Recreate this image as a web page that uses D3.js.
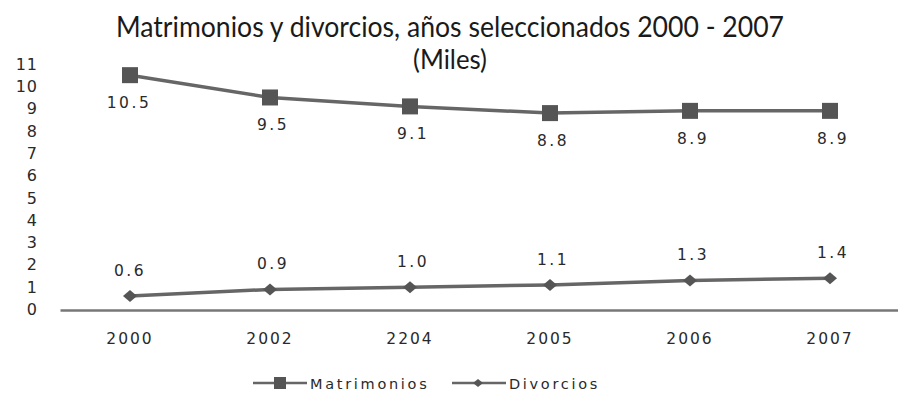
<!DOCTYPE html>
<html><head><meta charset="utf-8">
<script src="https://cdn.jsdelivr.net/npm/d3@7"></script>
<style>body{margin:0;background:#fff}svg{display:block}</style>
</head><body><svg id="c" width="898" height="401"></svg>
<script>
const years = ["2000","2002","2204","2005","2006","2007"];
const matrimonios = [10.5, 9.5, 9.1, 8.8, 8.9, 8.9];
const divorcios = [0.6, 0.9, 1.0, 1.1, 1.3, 1.4];
const yTicks = [0,1,2,3,4,5,6,7,8,9,10,11];
const title1 = "Matrimonios y divorcios, años seleccionados 2000 - 2007";
const title2 = "(Miles)";
const seriesNames = ["Matrimonios","Divorcios"];

const svg = d3.select("#c");
const x = d3.scaleBand().domain(years).range([60, 900]);
const y = d3.scaleLinear().domain([0, 11]).range([309.5, 64]);
const cx = d => x(d) + x.bandwidth()/2;
const col = "#666";
const font = "'DejaVu Sans', Verdana, sans-serif";
const tfont = "Lato, 'Open Sans', sans-serif";

svg.append("text").attr("x", 450).attr("y", 37).attr("text-anchor","middle")
  .attr("font-family",tfont).attr("font-size", 28)
  .attr("textLength", 668).attr("lengthAdjust","spacingAndGlyphs")
  .attr("fill","#1a1a1a").text(title1);
svg.append("text").attr("x", 450).attr("y", 69).attr("text-anchor","middle")
  .attr("font-family",tfont).attr("font-size", 27)
  .attr("textLength", 74).attr("lengthAdjust","spacingAndGlyphs")
  .attr("fill","#1a1a1a").text(title2);

// y axis labels
const yAx = svg.append("g").attr("transform","translate(44,0)")
  .call(d3.axisLeft(y).tickValues(yTicks).tickSize(0).tickPadding(6));
yAx.select(".domain").remove();
yAx.selectAll("text").attr("font-family",font).attr("font-size",16)
  .attr("letter-spacing",1).attr("fill","#2a2a2a");

// x axis
const xAx = svg.append("g").attr("transform","translate(0,310)")
  .call(d3.axisBottom(x).tickSize(0).tickPadding(23));
xAx.select(".domain").attr("stroke","#777").attr("stroke-width",2.5);
xAx.selectAll("text").attr("font-family",font).attr("font-size",15.5)
  .attr("letter-spacing",2).attr("fill","#2a2a2a");

const line = d3.line().x((d,i)=>cx(years[i])).y(d=>y(d));

// Matrimonios
svg.append("path").datum(matrimonios).attr("d", line).attr("fill","none")
  .attr("stroke",col).attr("stroke-width",3.5);
svg.selectAll(".sq").data(matrimonios).enter().append("rect")
  .attr("x",(d,i)=>cx(years[i])-8).attr("y",d=>y(d)-8).attr("width",16).attr("height",16)
  .attr("fill","#555");
svg.selectAll(".ml").data(matrimonios).enter().append("text")
  .attr("x",(d,i)=>cx(years[i])+(i===0?-1:3)).attr("y",d=>y(d)+33).attr("text-anchor","middle")
  .attr("font-family",font).attr("font-size",15.5).attr("letter-spacing",2.5).attr("fill","#2a2a2a")
  .text(d=>d.toFixed(1));

// Divorcios
svg.append("path").datum(divorcios).attr("d", line).attr("fill","none")
  .attr("stroke",col).attr("stroke-width",3.5);
svg.selectAll(".dm").data(divorcios).enter().append("path")
  .attr("d",(d,i)=>{const px=cx(years[i]),py=y(d);return `M${px-7},${py}L${px},${py-6}L${px+7},${py}L${px},${py+6}Z`;})
  .attr("fill","#555");
svg.selectAll(".dl").data(divorcios).enter().append("text")
  .attr("x",(d,i)=>cx(years[i])+(i===0?0:3)).attr("y",d=>y(d)-20).attr("text-anchor","middle")
  .attr("font-family",font).attr("font-size",15.5).attr("letter-spacing",2.5).attr("fill","#2a2a2a")
  .text(d=>d.toFixed(1));

// legend
const lg = svg.append("g");
const lx = [253, 452];
seriesNames.forEach((n,i)=>{
  const g = lg.append("g").attr("transform",`translate(${lx[i]},383)`);
  g.append("line").attr("x1",0).attr("x2",54).attr("y1",0).attr("y2",0).attr("stroke",col).attr("stroke-width",2.5);
  if(i===0) g.append("rect").attr("x",21).attr("y",-6).attr("width",12).attr("height",12).attr("fill","#555");
  else g.append("path").attr("d","M21,0L26,-4L31,0L26,4Z").attr("fill","#555");
  g.append("text").attr("x",57).attr("y",6).attr("font-family",font).attr("font-size",14.5)
    .attr("letter-spacing",2.7).attr("fill","#2a2a2a").text(n);
});
</script></body></html>
